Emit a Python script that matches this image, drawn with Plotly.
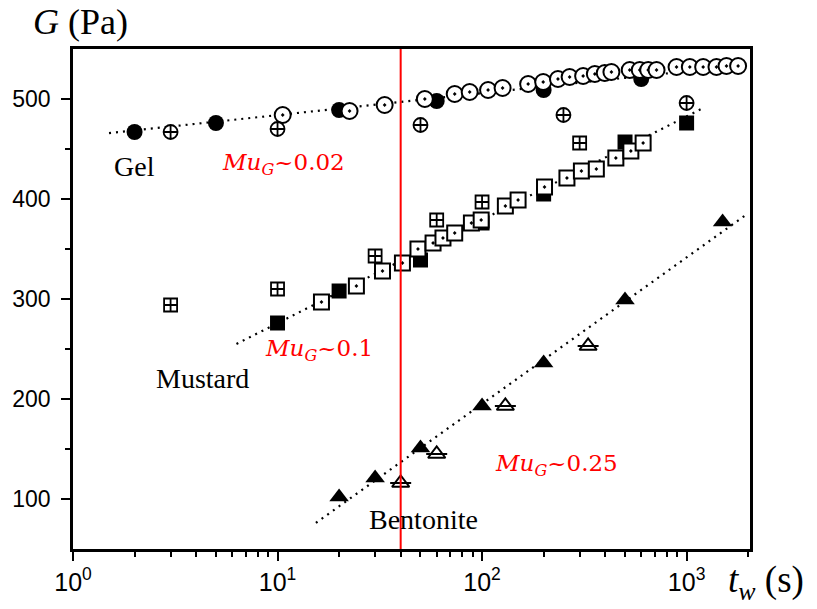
import numpy as np
import plotly.graph_objects as go

# ---- measured moduli G (Pa) versus waiting time t_w (s) ----
# Gel
gel_filled_t = [2, 5, 20, 60, 200, 600]
gel_filled_G = [467, 476, 489, 498, 509, 520]
gel_open_t = [10.6, 22.5, 33.4, 52.5, 73.5, 87, 107, 126, 168, 199, 235, 268,
              312, 356, 398, 429, 527, 590, 649, 713, 893, 1037, 1205, 1400,
              1567, 1786]
gel_open_G = [484, 488, 494, 500, 505, 507, 509, 511, 515, 517, 520, 522,
              523, 525, 526, 527, 529, 529, 529, 529, 532, 532, 532, 532,
              533, 533]
gel_cross_t = [3, 10, 50, 250, 1000]
gel_cross_G = [467, 470, 474, 484, 496]

# Mustard
mus_filled_t = [10, 20, 50, 100, 200, 500, 1000]
mus_filled_G = [276, 308, 339, 376, 405, 457, 476]
mus_open_t = [16.4, 24.3, 32.6, 40.8, 48.6, 57.6, 64.4, 73.5, 88.7, 99, 130,
              150, 202, 260, 306, 362, 451, 534, 613]
mus_open_G = [297, 313, 328, 336, 350, 356, 361, 366, 376, 379, 393,
              399, 412, 421, 428, 430, 441, 448, 456]
mus_cross_t = [3, 10, 30, 60, 100, 300]
mus_cross_G = [294, 310, 343, 379, 397, 456]

# Bentonite
ben_filled_t = [20, 30, 50, 100, 200, 500, 1500]
ben_filled_G = [102, 121, 151, 193, 236, 299, 377]
ben_open_t = [40, 60, 130, 330]
ben_open_G = [116, 145, 193, 253]

# logarithmic trend lines: G = a + b*log10(t), drawn between t_start and t_end
gel_fit = dict(a=462.0, b=21.9, t_start=1.5, t_end=1800)
mus_fit = dict(a=172.4, b=103.4, t_start=6.3, t_end=1200)
ben_fit = dict(a=-97.9, b=146.5, t_start=15.4, t_end=2000)

# reference waiting time
t_mark = 40

# sample names and Mu_G values with their anchor points (t, G)
sample_names = ["Gel", "Mustard", "Bentonite"]
sample_label_t = [2.0, 4.3, 52]
sample_label_G = [433, 221, 80]
mu_values = ["0.02", "0.1", "0.25"]
mu_label_t = [5.22, 8.5, 112.7]
mu_label_G = [435, 249, 134]

x_tickvals = [1, 10, 100, 1000]
x_ticktext = ["10<sup>0</sup>", "10<sup>1</sup>", "10<sup>2</sup>", "10<sup>3</sup>"]
x_minor = [m * 10 ** k for k in range(3) for m in range(2, 10)] + [2000]
y_tickvals = [100, 200, 300, 400, 500]
y_minor = [150, 250, 350, 450]

fig = go.Figure()


def fit_line(p):
    t = np.array([p["t_start"], p["t_end"]], dtype=float)
    return t, p["a"] + p["b"] * np.log10(t)


for p in (gel_fit, mus_fit, ben_fit):
    t, g = fit_line(p)
    fig.add_trace(go.Scatter(x=t, y=g, mode="lines",
                             line=dict(color="black", width=2.2, dash="2px,5px"),
                             hoverinfo="skip"))


def markers(t, g, symbol, size, fill="black", lw=0.0):
    fig.add_trace(go.Scatter(
        x=t, y=g, mode="markers",
        marker=dict(symbol=symbol, size=size, color=fill,
                    line=dict(color="black", width=lw))))


# Gel
markers(gel_filled_t, gel_filled_G, "circle", 16)
markers(gel_open_t, gel_open_G, "circle-dot", 16, fill="white", lw=2)
markers(gel_cross_t, gel_cross_G, "circle-cross", 14, fill="white", lw=1.8)
# Mustard
markers(mus_filled_t, mus_filled_G, "square", 15)
markers(mus_open_t, mus_open_G, "square-dot", 15, fill="white", lw=2)
markers(mus_cross_t, mus_cross_G, "square-cross", 13, fill="white", lw=1.8)
# Bentonite
markers(ben_filled_t, ben_filled_G, "triangle-up", 17)
markers(ben_open_t, ben_open_G, "triangle-up", 15, fill="white", lw=2)
markers(ben_open_t, ben_open_G, "line-ew", 15, fill="black", lw=2)

# vertical red marker line
fig.add_shape(type="line", xref="x", yref="paper",
              x0=t_mark, x1=t_mark, y0=0, y1=1,
              line=dict(color="#ff0000", width=2))

serif = "Liberation Serif"
ann = []
for name, tx, gy in zip(sample_names, sample_label_t, sample_label_G):
    ann.append(dict(text=name, x=np.log10(tx), y=gy, xref="x", yref="y",
                    showarrow=False,
                    font=dict(family=serif, size=28, color="black")))

red_font = dict(family="DejaVu Serif", size=23, color="#ff0000")
for val, tx, gy in zip(mu_values, mu_label_t, mu_label_G):
    ann.append(dict(text="<i>Mu</i><sub><i>G</i></sub>~" + val,
                    x=np.log10(tx), y=gy, xref="x", yref="y",
                    xanchor="left", yanchor="middle", showarrow=False,
                    font=red_font))

# axis titles
ann.append(dict(text="<i>G</i> (Pa)", x=-0.062, y=1.054, xref="paper", yref="paper",
                xanchor="left", yanchor="middle", showarrow=False,
                font=dict(family=serif, size=36, color="black")))
ann.append(dict(text="<i>t</i><sub><i>w</i></sub> (s)", x=0.964, y=-0.066,
                xref="paper", yref="paper", xanchor="left", yanchor="middle",
                showarrow=False, font=dict(family=serif, size=37, color="black")))

fig.update_layout(
    width=817, height=609,
    margin=dict(l=73, r=67, t=49, b=60),
    paper_bgcolor="white", plot_bgcolor="white",
    showlegend=False,
    annotations=ann,
    xaxis=dict(type="log", range=[0, 3.31],
               tickvals=x_tickvals, ticktext=x_ticktext,
               ticks="outside", ticklen=9, tickwidth=2, tickcolor="black",
               minor=dict(tickvals=x_minor, ticks="outside", ticklen=5,
                          tickwidth=2, tickcolor="black"),
               showline=True, linewidth=2.5, linecolor="black", mirror=True,
               showgrid=False, zeroline=False,
               tickfont=dict(family="Liberation Sans", size=25, color="black")),
    yaxis=dict(range=[50, 550], tickvals=y_tickvals,
               ticks="outside", ticklen=9, tickwidth=2, tickcolor="black",
               minor=dict(tickvals=y_minor, ticks="outside", ticklen=5,
                          tickwidth=2, tickcolor="black"),
               showline=True, linewidth=2.5, linecolor="black", mirror=True,
               showgrid=False, zeroline=False, ticklabelstandoff=6,
               tickfont=dict(family="Liberation Sans", size=23, color="black")),
)

fig.write_html("out.html")
